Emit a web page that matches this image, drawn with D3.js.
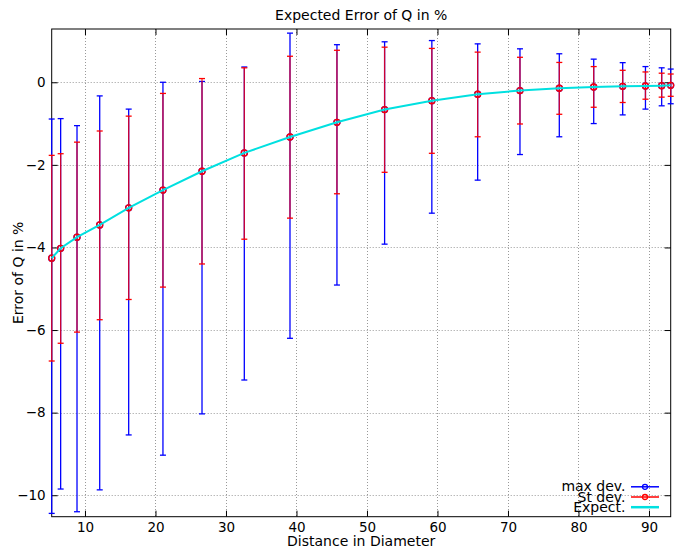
<!DOCTYPE html>
<html>
<head>
<meta charset="utf-8">
<script src="https://cdn.jsdelivr.net/npm/d3@7"></script>
<style>
  body { margin: 0; background: #fff; }
  text { font-family: "DejaVu Sans", sans-serif; fill: #000; }
</style>
</head>
<body>
<div id="chart"></div>
<script>
// distance in diameters
var dist = [5.28, 6.55, 8.87, 12.09, 16.2, 21.06, 26.6, 32.6, 39.08, 45.74,
            52.5, 59.2, 65.7, 71.7, 77.28, 82.16, 86.27, 89.5, 91.8, 93.08];
// expected error (%)
var expect = [-4.26, -4.02, -3.75, -3.455, -3.04, -2.61, -2.155, -1.71, -1.325, -0.97,
              -0.66, -0.445, -0.29, -0.20, -0.145, -0.114, -0.097, -0.09, -0.082, -0.073];
// st dev. bar ends
var stdLow  = [-6.75, -6.32, -6.05, -5.75, -5.26, -4.96, -4.40, -3.80, -3.29, -2.70,
               -2.18, -1.72, -1.32, -1.01, -0.775, -0.605, -0.49, -0.41, -0.36, -0.34];
var stdHigh = [-1.77, -1.73, -1.45, -1.18, -0.82, -0.27, 0.09, 0.35, 0.63, 0.775,
               0.85, 0.82, 0.73, 0.605, 0.48, 0.38, 0.29, 0.25, 0.22, 0.20];
// max dev. bar ends
var maxLow  = [-10.44, -9.85, -10.40, -9.87, -8.54, -9.03, -8.03, -7.21, -6.20, -4.91,
               -3.92, -3.17, -2.37, -1.75, -1.32, -1.00, -0.79, -0.65, -0.57, -0.52];
var maxHigh = [-0.89, -0.88, -1.05, -0.33, -0.65, 0.0, 0.02, 0.37, 1.19, 0.91,
               0.98, 1.01, 0.93, 0.81, 0.69, 0.56, 0.475, 0.38, 0.35, 0.32];

var xTicks = [10, 20, 30, 40, 50, 60, 70, 80, 90];
var yTicks = [0, -2, -4, -6, -8, -10];

var width = 678, height = 552;
var pLeft = 51.7, pRight = 670.7, pTop = 29, pBottom = 516.7;

var x = d3.scaleLinear().domain([5.28, 93.08]).range([pLeft, pRight]);
var y = d3.scaleLinear().domain([-10.52, 1.29]).range([pBottom, pTop]);

var svg = d3.select("#chart").append("svg")
    .attr("width", width)
    .attr("height", height);

// grid
svg.append("g").selectAll("line")
    .data(xTicks).enter().append("line")
    .attr("x1", function(d) { return Math.round(x(d)) + 0.5; })
    .attr("x2", function(d) { return Math.round(x(d)) + 0.5; })
    .attr("y1", pTop).attr("y2", pBottom)
    .attr("stroke", "#999").attr("stroke-dasharray", "1,2");
svg.append("g").selectAll("line")
    .data(yTicks).enter().append("line")
    .attr("y1", function(d) { return Math.round(y(d)) + 0.5; })
    .attr("y2", function(d) { return Math.round(y(d)) + 0.5; })
    .attr("x1", pLeft).attr("x2", pRight)
    .attr("stroke", "#999").attr("stroke-dasharray", "1,2");

// axes, ticks pointing inward
function styleAxis(g) {
  g.select(".domain").remove();
  g.selectAll(".tick line").attr("stroke", "#000");
  g.selectAll(".tick text").style("font-size", "13.5px").attr("fill", "#000");
}
svg.append("g").attr("transform", "translate(0," + pBottom + ")")
    .call(d3.axisBottom(x).tickValues(xTicks).tickSize(-6).tickPadding(6))
    .call(styleAxis);
svg.append("g").attr("transform", "translate(0," + pTop + ")")
    .call(d3.axisTop(x).tickValues(xTicks).tickSize(-6).tickFormat(""))
    .call(styleAxis);
svg.append("g").attr("transform", "translate(" + pLeft + ",0)")
    .call(d3.axisLeft(y).tickValues(yTicks).tickSize(-6).tickPadding(6))
    .call(styleAxis);
svg.append("g").attr("transform", "translate(" + pRight + ",0)")
    .call(d3.axisRight(y).tickValues(yTicks).tickSize(-6).tickFormat(""))
    .call(styleAxis);

svg.append("rect")
    .attr("x", pLeft).attr("y", pTop)
    .attr("width", pRight - pLeft).attr("height", pBottom - pTop)
    .attr("fill", "none").attr("stroke", "#000");

// error bars
function errorBars(lo, hi, color, w, op) {
  var g = svg.append("g").attr("stroke", color).attr("stroke-width", w);
  dist.forEach(function(d, i) {
    var cx = x(d);
    g.append("line").attr("x1", cx).attr("x2", cx).attr("y1", y(lo[i])).attr("y2", y(hi[i]))
      .attr("opacity", op);
    [lo[i], hi[i]].forEach(function(v) {
      g.append("line").attr("x1", cx - 3).attr("x2", cx + 3).attr("y1", y(v)).attr("y2", y(v));
    });
  });
  g.selectAll("circle").data(expect).enter().append("circle")
    .attr("cx", function(d, i) { return x(dist[i]); })
    .attr("cy", function(d) { return y(d); })
    .attr("r", 3).attr("fill", "none");
}
errorBars(maxLow, maxHigh, "#0000ff", 1.3, 1);
errorBars(stdLow, stdHigh, "#ff0000", 1.3, 0.8);

var line = d3.line()
    .x(function(d, i) { return x(dist[i]); })
    .y(function(d) { return y(d); });
svg.append("path").datum(expect)
    .attr("d", line)
    .attr("fill", "none")
    .attr("stroke", "#00e0e0")
    .attr("stroke-width", 2);

// titles
svg.append("text").attr("x", (pLeft + pRight) / 2).attr("y", 20)
    .attr("text-anchor", "middle").style("font-size", "14px")
    .text("Expected Error of Q in %");
svg.append("text").attr("x", (pLeft + pRight) / 2).attr("y", 546)
    .attr("text-anchor", "middle").style("font-size", "14px")
    .text("Distance in Diameter");
svg.append("text")
    .attr("transform", "translate(23," + (pTop + pBottom) / 2 + ") rotate(-90)")
    .attr("text-anchor", "middle").style("font-size", "14px")
    .text("Error of Q in %");

// legend
var legend = [
  { name: "max dev.", color: "#0000ff", mark: true, w: 1.5 },
  { name: "St dev.", color: "#ff0000", mark: true, w: 1.5 },
  { name: "Expect.", color: "#00e0e0", mark: false, w: 2.5 }
];
legend.forEach(function(d, i) {
  var ly = 486.8 + i * 10.2;
  svg.append("text").attr("x", 625.5).attr("y", ly + 4.5)
    .attr("text-anchor", "end").style("font-size", "14px").text(d.name);
  svg.append("line").attr("x1", 631).attr("x2", 659).attr("y1", ly).attr("y2", ly)
    .attr("stroke", d.color).attr("stroke-width", d.w);
  if (d.mark) {
    svg.append("circle").attr("cx", 645).attr("cy", ly).attr("r", 2.5)
      .attr("fill", "none").attr("stroke", d.color).attr("stroke-width", 1.3);
  }
});
</script>
</body>
</html>
